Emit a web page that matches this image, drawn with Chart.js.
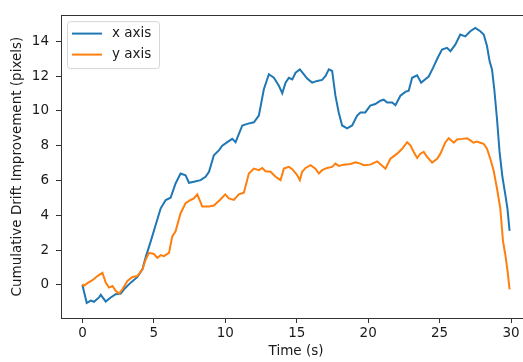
<!DOCTYPE html>
<html lang="en">
<head>
    <meta charset="UTF-8">
    <title>Cumulative Drift Improvement</title>
    <script src="https://cdn.jsdelivr.net/npm/chart.js"></script>
    <style>
        html, body { margin: 0; padding: 0; overflow: hidden; background: #fff; }
        #wrap { width: 544px; height: 362px; }
    </style>
</head>
<body>
    <div id="wrap"><canvas id="myChart" width="544" height="362"></canvas></div>
    <script>
        // x axis drift (blue)
        const xAxisTime = [0, 0.3, 0.58, 0.81, 1.16, 1.28, 1.63, 1.98, 2.33, 2.68, 2.91, 3.38, 3.85, 4.2, 4.43, 4.78,
            5.13, 5.48, 5.83, 6.17, 6.52, 6.87, 7.22, 7.46, 7.8, 8.27, 8.62, 8.86, 9.2, 9.55, 9.79, 10.14, 10.49, 10.72,
            11.19, 11.54, 12.0, 12.35, 12.7, 13.05, 13.4, 13.75, 13.99, 14.22, 14.45, 14.69, 14.92, 15.22, 15.5, 15.73,
            16.08, 16.43, 16.78, 17.02, 17.25, 17.48, 17.71, 17.94, 18.18, 18.53, 18.88, 19.23, 19.46, 19.8, 20.15, 20.5,
            20.86, 21.09, 21.33, 21.68, 21.91, 22.26, 22.6, 22.84, 23.08, 23.43, 23.71, 24.0, 24.24, 24.55, 24.87, 25.17,
            25.52, 25.76, 26.1, 26.45, 26.8, 27.15, 27.5, 27.85, 28.09, 28.32, 28.5, 28.67, 28.83, 29.02, 29.2, 29.4,
            29.6, 29.75, 29.9];
        const xAxisVals = [0, -1.04, -0.9, -0.97, -0.72, -0.57, -0.95, -0.72, -0.53, -0.5, -0.25, 0.13, 0.46, 0.9, 1.6, 2.5,
            3.46, 4.4, 4.88, 5.01, 5.83, 6.4, 6.3, 5.87, 5.93, 6.02, 6.21, 6.5, 7.45, 7.73, 8.0, 8.2, 8.39, 8.2,
            9.16, 9.25, 9.34, 9.73, 11.24, 12.1, 11.9, 11.44, 11.01, 11.62, 11.9, 11.81, 12.19, 12.38, 12.1, 11.85,
            11.62, 11.72, 11.78, 12.0, 12.38, 12.29, 10.87, 9.91, 9.16, 9.0, 9.16, 9.73, 9.91, 9.91, 10.3, 10.39,
            10.58, 10.64, 10.48, 10.48, 10.33, 10.87, 11.09, 11.15, 11.9, 12.04, 11.62, 11.81, 11.97, 12.48, 13.05, 13.52,
            13.62, 13.43, 13.8, 14.38, 14.28, 14.57, 14.76, 14.57, 14.38, 13.72, 12.86, 12.38, 11.24, 9.53, 7.64, 6.2,
            5.2, 4.4, 3.1];

        // y axis drift (orange)
        const yAxisTime = [0, 0.1, 0.35, 0.7, 1.05, 1.4, 1.63, 1.86, 2.1, 2.33, 2.56, 2.8, 3.15, 3.5, 3.85, 4.2, 4.43, 4.66,
            5.0, 5.24, 5.48, 5.71, 6.06, 6.29, 6.52, 6.87, 7.22, 7.57, 7.8, 8.04, 8.39, 8.86, 9.2, 9.62, 10.0, 10.25,
            10.6, 10.95, 11.3, 11.65, 12.0, 12.35, 12.59, 12.82, 13.17, 13.52, 13.87, 14.1, 14.45, 14.69, 15.03, 15.22,
            15.38, 15.62, 15.97, 16.31, 16.55, 16.78, 17.13, 17.48, 17.71, 17.94, 18.29, 18.76, 19.11, 19.46, 19.69, 20.15,
            20.63, 20.98, 21.21, 21.56, 22.03, 22.38, 22.73, 22.96, 23.19, 23.43, 23.66, 23.89, 24.13, 24.48, 24.83, 25.06,
            25.41, 25.64, 26.0, 26.22, 26.57, 26.92, 27.15, 27.38, 27.62, 27.85, 28.08, 28.32, 28.55, 28.78, 29.02, 29.25,
            29.44, 29.6, 29.76, 29.9];
        const yAxisVals = [0.05, -0.05, 0.1, 0.27, 0.51, 0.7, 0.13, -0.15, -0.06, -0.34, -0.5, -0.25, 0.23, 0.46, 0.51, 0.9, 1.46, 1.84,
            1.78, 1.55, 1.71, 1.65, 1.84, 2.79, 3.08, 4.12, 4.69, 4.88, 4.97, 5.2, 4.5, 4.5, 4.56, 4.88, 5.2, 4.97,
            4.88, 5.2, 5.3, 6.4, 6.68, 6.59, 6.72, 6.53, 6.5, 6.21, 6.02, 6.68, 6.78, 6.65, 6.31, 6.02,
            6.5, 6.72, 6.88, 6.68, 6.4, 6.59, 6.72, 6.78, 6.97, 6.84, 6.91, 6.95, 7.05, 6.97, 6.88, 6.91,
            7.1, 6.84, 6.68, 7.25, 7.54, 7.82, 8.2, 8.02, 7.64, 7.29, 7.54, 7.64, 7.35, 7.03, 7.25, 7.54,
            8.2, 8.43, 8.17, 8.36, 8.39, 8.43, 8.3, 8.17, 8.24, 8.17, 8.11, 7.82, 7.25, 6.59, 5.54, 4.4,
            2.51, 1.75, 0.8, -0.25];

        const seriesLabels = ['x axis', 'y axis'];

        const FONT = 'DejaVu Sans';
        const FSIZE = 13.5;
        const SPINE = '#333';
        const TEXT = '#1a1a1a';

        function toPoints(ts, vs) {
            return ts.map((t, i) => ({ x: t, y: vs[i] }));
        }

        // matplotlib-like frame around the axes
        const framePlugin = {
            id: 'frame',
            afterDatasetsDraw(chart) {
                const { ctx, chartArea: a } = chart;
                ctx.save();
                ctx.strokeStyle = SPINE;
                ctx.lineWidth = 1;
                ctx.strokeRect(Math.round(a.left) + 0.5, Math.round(a.top) + 0.5,
                    Math.round(a.right - a.left), Math.round(a.bottom - a.top));
                ctx.restore();
            }
        };

        // legend box in upper left corner
        const boxLegend = {
            id: 'boxLegend',
            afterDraw(chart) {
                const { ctx, chartArea: a } = chart;
                const x0 = a.left + 6, y0 = a.top + 6, w = 92, h = 47;
                ctx.save();
                ctx.beginPath();
                ctx.roundRect(x0 + 0.5, y0 + 0.5, w, h, 3);
                ctx.fillStyle = 'rgba(255,255,255,0.8)';
                ctx.fill();
                ctx.strokeStyle = '#d6d6d6';
                ctx.lineWidth = 1;
                ctx.stroke();
                ctx.font = FSIZE + 'px "' + FONT + '"';
                ctx.textBaseline = 'middle';
                chart.data.datasets.forEach((ds, i) => {
                    const y = y0 + 12.5 + i * 21;
                    ctx.beginPath();
                    ctx.moveTo(x0 + 5, y);
                    ctx.lineTo(x0 + 35, y);
                    ctx.strokeStyle = ds.borderColor;
                    ctx.lineWidth = 2;
                    ctx.stroke();
                    ctx.fillStyle = TEXT;
                    ctx.fillText(ds.label, x0 + 45, y);
                });
                ctx.restore();
            }
        };

        const ctx = document.getElementById('myChart').getContext('2d');
        new Chart(ctx, {
            type: 'line',
            data: {
                datasets: [{
                    label: seriesLabels[0],
                    data: toPoints(xAxisTime, xAxisVals),
                    borderColor: '#1f77b4',
                    borderWidth: 2,
                    pointRadius: 0,
                    tension: 0,
                    order: 1
                }, {
                    label: seriesLabels[1],
                    data: toPoints(yAxisTime, yAxisVals),
                    borderColor: '#ff7f0e',
                    borderWidth: 2,
                    pointRadius: 0,
                    tension: 0,
                    order: 0
                }]
            },
            options: {
                responsive: false,
                animation: false,
                layout: { padding: { top: 12, right: 13, left: 0, bottom: 0 } },
                plugins: {
                    legend: { display: false },
                    tooltip: { enabled: false }
                },
                scales: {
                    x: {
                        type: 'linear',
                        min: -1.5,
                        max: 31.4,
                        afterFit: s => { s.height = 44; },
                        grid: { drawOnChartArea: false, tickLength: 5, color: SPINE },
                        border: { color: SPINE },
                        ticks: {
                            stepSize: 5,
                            includeBounds: false,
                            maxRotation: 0,
                            padding: 2,
                            color: TEXT,
                            font: { family: FONT, size: FSIZE }
                        },
                        title: {
                            display: true,
                            text: 'Time (s)',
                            color: TEXT,
                            font: { family: FONT, size: FSIZE },
                            padding: { top: 0, bottom: 2 }
                        }
                    },
                    y: {
                        min: -1.9,
                        max: 15.5,
                        afterFit: s => { s.width = 61; },
                        grid: { drawOnChartArea: false, tickLength: 5, color: SPINE },
                        border: { color: SPINE },
                        ticks: {
                            stepSize: 2,
                            includeBounds: false,
                            padding: 7,
                            color: TEXT,
                            font: { family: FONT, size: FSIZE }
                        },
                        title: {
                            display: true,
                            text: 'Cumulative Drift Improvement (pixels)',
                            color: TEXT,
                            font: { family: FONT, size: FSIZE },
                            padding: { top: 9, bottom: 0 }
                        }
                    }
                }
            },
            plugins: [framePlugin, boxLegend]
        });
    </script>
</body>
</html>
